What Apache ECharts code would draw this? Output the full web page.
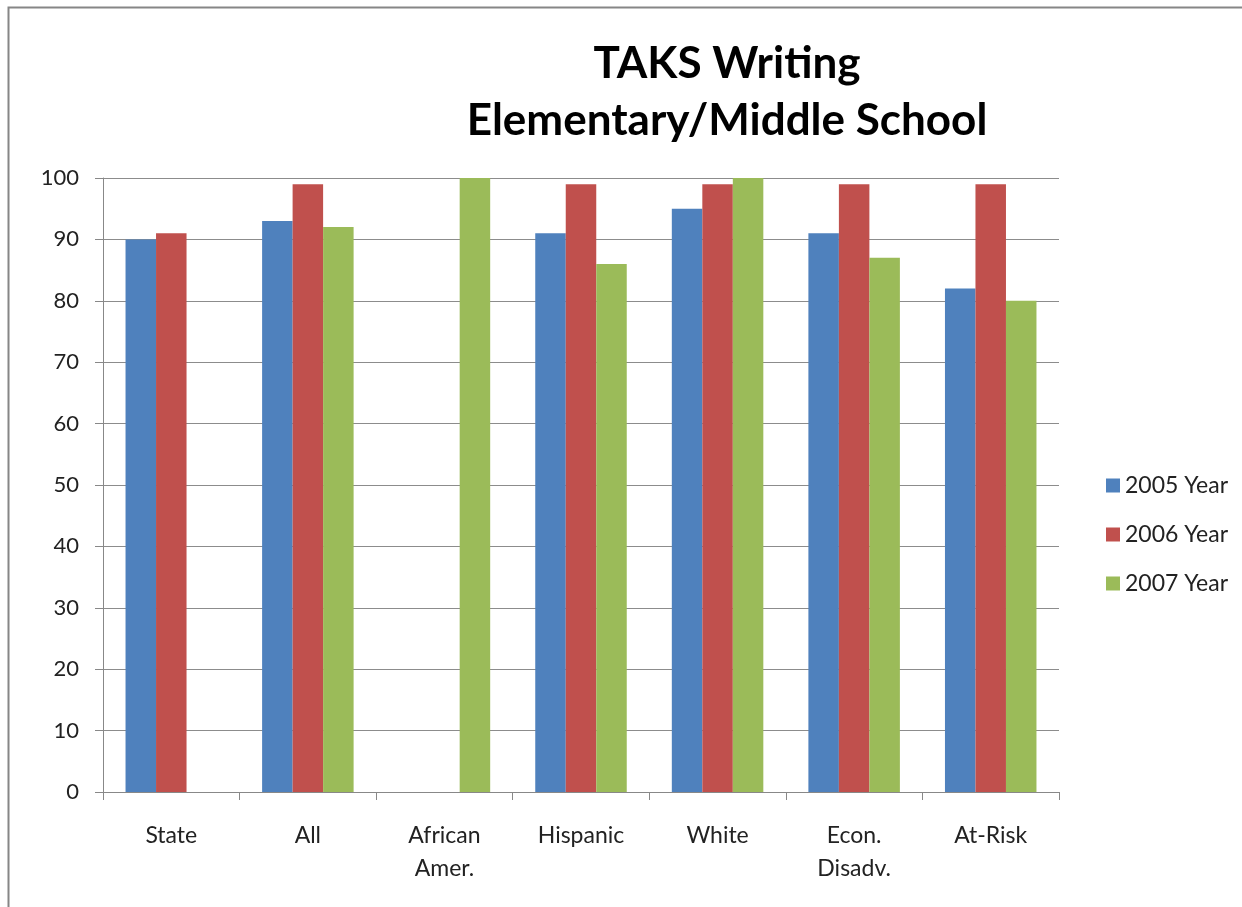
<!DOCTYPE html>
<html>
<head>
<meta charset="utf-8">
<script src="https://cdn.jsdelivr.net/npm/echarts@6/dist/echarts.min.js"></script>
<style>html,body{margin:0;padding:0;background:#fff;}#c{width:1242px;height:907px;}</style>
</head>
<body>
<div id="c"></div>
<script>
const categories = ['State', 'All', 'African\nAmer.', 'Hispanic', 'White', 'Econ.\nDisadv.', 'At-Risk'];
const seriesNames = ['2005 Year', '2006 Year', '2007 Year'];
const y2005 = [90, 93, null, 91, 95, 91, 82];
const y2006 = [91, 99, null, 99, 99, 99, 99];
const y2007 = [null, 92, 100, 86, 100, 87, 80];
const yTicks = [0, 10, 20, 30, 40, 50, 60, 70, 80, 90, 100];
const colors = ['#4F81BD', '#C0504D', '#9BBB59'];

const chart = echarts.init(document.getElementById('c'));
const font = 'Lato, "Open Sans", sans-serif';
const values = [y2005, y2006, y2007];
chart.setOption({
  animation: false,
  backgroundColor: '#fff',
  graphic: [{
    type: 'rect', shape: {x: 8.5, y: 7.5, width: 1250, height: 920},
    style: {fill: 'none', stroke: '#868686', lineWidth: 2}, silent: true
  }],
  title: {
    text: 'TAKS Writing\nElementary/Middle School',
    left: 722, top: 30, textAlign: 'center',
    textStyle: {fontFamily: font, fontWeight: 'bold', fontSize: 44, lineHeight: 57, color: '#000'}
  },
  legend: {
    orient: 'vertical', left: 1101, top: 469,
    itemWidth: 14, itemHeight: 14, itemGap: 26,
    icon: 'rect',
    textStyle: {fontFamily: font, fontSize: 23, color: '#222'},
    data: seriesNames
  },
  grid: {left: 103, right: 183, top: 178, bottom: 115, containLabel: false},
  xAxis: {
    type: 'category', data: categories,
    axisLine: {lineStyle: {color: '#888', width: 1}},
    axisTick: {show: true, length: 8, lineStyle: {color: '#888'}, alignWithLabel: false},
    axisLabel: {fontFamily: font, fontSize: 23, color: '#222', margin: 27, lineHeight: 33, interval: 0}
  },
  yAxis: {
    type: 'value', min: 0, max: 100, interval: 10,
    axisLine: {show: true, lineStyle: {color: '#888', width: 1}},
    axisTick: {show: true, length: 8, lineStyle: {color: '#888'}},
    splitLine: {lineStyle: {color: '#8c8c8c', width: 1}},
    axisLabel: {fontFamily: font, fontSize: 22, color: '#222', margin: 24,
      formatter: v => yTicks.includes(v) ? String(v) : ''}
  },
  series: seriesNames.map((n, i) => ({
    name: n, type: 'bar', data: values[i],
    itemStyle: {color: colors[i]},
    barGap: '0%', barCategoryGap: '33%'
  }))
});
</script>
</body>
</html>
